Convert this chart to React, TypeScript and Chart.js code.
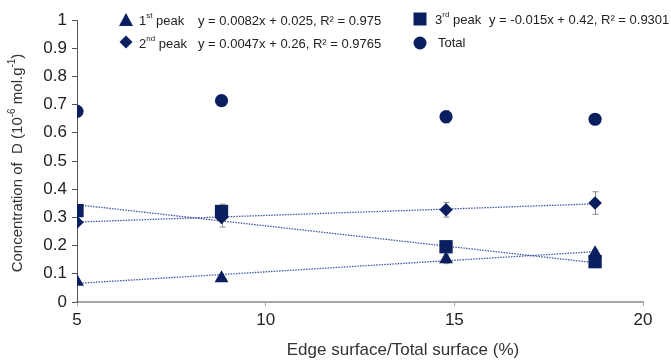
import React, { useEffect, useRef } from "react";
import { Chart, registerables } from "chart.js";

Chart.register(...registerables);

// Edge surface / total surface ratio (%) of each sample
const edgeRatio = [5, 8.83, 14.78, 18.73];

// Concentration of D (10^-6 mol/g) for each desorption peak and the total
const peak1 = [0.072, 0.084, 0.152, 0.173];
const peak2 = [0.283, 0.3, 0.327, 0.351];
const peak3 = [0.324, 0.321, 0.196, 0.143];
const total = [0.676, 0.714, 0.657, 0.648];

// Error bar half-widths
const peak1Err = [0, 0, 0.016, 0.012];
const peak2Err = [0, 0.034, 0.026, 0.04];
const peak3Err = [0, 0.026, 0.016, 0];
const totalErr = [0, 0, 0.022, 0];

// Linear fits of the three peaks
const fitSlope = [0.0082, 0.0047, -0.015];
const fitIntercept = [0.025, 0.26, 0.42];
const fitR2 = ["0.975", "0.9765", "0.9301"];

const xTicks = [5, 10, 15, 20];
const yTicks = [0, 0.1, 0.2, 0.3, 0.4, 0.5, 0.6, 0.7, 0.8, 0.9, 1];

const NAVY = "#0a1f60";
const FIT = "#4257a3";
const FONT = "'Liberation Sans', Arial, sans-serif";

const fmt = (v: number) => {
  const s = v.toString();
  return s.startsWith("-") ? "-" + s.slice(1) : s;
};

const fitLabel = (i: number) =>
  `y = ${fmt(fitSlope[i])}x + ${fmt(fitIntercept[i])}, R² = ${fitR2[i]}`;

const fitLine = (i: number) => {
  const xs = [edgeRatio[0], edgeRatio[edgeRatio.length - 1]];
  return xs.map((x) => ({ x, y: fitSlope[i] * x + fitIntercept[i] }));
};

const pts = (ys: number[]) => edgeRatio.map((x, i) => ({ x, y: ys[i] }));

function drawMarker(ctx: CanvasRenderingContext2D, kind: string, x: number, y: number) {
  ctx.save();
  ctx.fillStyle = NAVY;
  ctx.beginPath();
  if (kind === "triangle") {
    ctx.moveTo(x, y - 7);
    ctx.lineTo(x + 7, y + 6);
    ctx.lineTo(x - 7, y + 6);
    ctx.closePath();
  } else if (kind === "diamond") {
    ctx.moveTo(x, y - 6.5);
    ctx.lineTo(x + 6.5, y);
    ctx.lineTo(x, y + 6.5);
    ctx.lineTo(x - 6.5, y);
    ctx.closePath();
  } else if (kind === "square") {
    ctx.rect(x - 6.5, y - 6.5, 13, 13);
  } else {
    ctx.arc(x, y, 6.5, 0, Math.PI * 2);
  }
  ctx.fill();
  ctx.restore();
}

// Text with a raised, smaller suffix (e.g. 1st, 10^-6)
function drawRuns(
  ctx: CanvasRenderingContext2D,
  runs: { t: string; sup?: boolean }[],
  x: number,
  y: number,
  size: number,
  measureOnly = false
) {
  let cx = x;
  for (const r of runs) {
    const s = r.sup ? Math.round(size * 0.65) : size;
    ctx.font = `${s}px ${FONT}`;
    if (!measureOnly) ctx.fillText(r.t, cx, r.sup ? y - size * 0.38 : y);
    cx += ctx.measureText(r.t).width;
  }
  return cx - x;
}

const errorBars = {
  id: "errorBars",
  beforeDatasetsDraw(chart: any) {
    const { ctx, scales } = chart;
    const sets: [number[], number[]][] = [
      [peak1, peak1Err],
      [peak2, peak2Err],
      [peak3, peak3Err],
      [total, totalErr],
    ];
    ctx.save();
    ctx.strokeStyle = "#8c8c8c";
    ctx.lineWidth = 1;
    for (const [vals, errs] of sets) {
      vals.forEach((v, i) => {
        if (!errs[i]) return;
        const px = Math.round(scales.x.getPixelForValue(edgeRatio[i])) + 0.5;
        const y1 = scales.y.getPixelForValue(v - errs[i]);
        const y2 = scales.y.getPixelForValue(v + errs[i]);
        ctx.beginPath();
        ctx.moveTo(px, y1);
        ctx.lineTo(px, y2);
        ctx.moveTo(px - 3, y1);
        ctx.lineTo(px + 3, y1);
        ctx.moveTo(px - 3, y2);
        ctx.lineTo(px + 3, y2);
        ctx.stroke();
      });
    }
    ctx.restore();
  },
};

const annotations = {
  id: "annotations",
  afterDraw(chart: any) {
    const { ctx } = chart;
    ctx.save();
    ctx.fillStyle = "#222";
    ctx.textBaseline = "middle";
    ctx.textAlign = "left";

    // legend, left column
    drawMarker(ctx, "triangle", 126, 20);
    drawRuns(ctx, [{ t: "1" }, { t: "st", sup: true }, { t: " peak" }], 139, 21, 13);
    ctx.font = `13px ${FONT}`;
    ctx.fillText(fitLabel(0), 198, 21);

    drawMarker(ctx, "diamond", 126, 42);
    drawRuns(ctx, [{ t: "2" }, { t: "nd", sup: true }, { t: " peak" }], 139, 44, 13);
    ctx.font = `13px ${FONT}`;
    ctx.fillText(fitLabel(1), 198, 44);

    // legend, right column
    drawMarker(ctx, "square", 420, 19);
    drawRuns(ctx, [{ t: "3" }, { t: "rd", sup: true }, { t: " peak" }], 435, 20, 13);
    ctx.font = `13px ${FONT}`;
    ctx.fillText(fitLabel(2), 489, 20);

    drawMarker(ctx, "circle", 420, 43);
    ctx.font = `13px ${FONT}`;
    ctx.fillText("Total", 438, 43);

    // x axis title
    ctx.fillStyle = "#333";
    ctx.font = `17px ${FONT}`;
    ctx.textAlign = "center";
    ctx.fillText("Edge surface/Total surface (%)", 403, 350);

    // y axis title (rotated)
    const runs = [
      { t: "Concentration of  D (10" },
      { t: "-6", sup: true },
      { t: " mol.g" },
      { t: "-1", sup: true },
      { t: ")" },
    ];
    ctx.textAlign = "left";
    const w = drawRuns(ctx, runs, 0, 0, 15, true);
    ctx.translate(18, 163);
    ctx.rotate(-Math.PI / 2);
    drawRuns(ctx, runs, -w / 2, 0, 15);
    ctx.restore();
  },
};

export default function App() {
  const ref = useRef<HTMLCanvasElement>(null);

  useEffect(() => {
    document.body.style.margin = "0";
    const canvas = ref.current;
    if (!canvas) return;

    const marker = (data: number[], style: string, radius: number) => ({
      type: "scatter" as const,
      data: pts(data),
      pointStyle: style,
      pointRadius: radius,
      pointHoverRadius: radius,
      backgroundColor: NAVY,
      borderColor: NAVY,
      borderWidth: 0,
      order: 1,
    });

    const trend = (i: number) => ({
      type: "line" as const,
      data: fitLine(i),
      showLine: true,
      borderColor: FIT,
      borderWidth: 1.3,
      borderDash: [1.5, 1.2],
      pointRadius: 0,
      fill: false,
      order: 2,
    });

    const chart = new Chart(canvas, {
      type: "scatter",
      data: {
        datasets: [
          trend(0),
          trend(1),
          trend(2),
          marker(peak1, "triangle", 8),
          marker(peak2, "rectRot", 6.8),
          marker(peak3, "rect", 9.4),
          marker(total, "circle", 6.6),
        ] as any,
      },
      options: {
        animation: false,
        responsive: true,
        maintainAspectRatio: false,
        layout: { padding: { top: 20, right: 28, left: 0, bottom: 0 } },
        plugins: {
          legend: { display: false },
          tooltip: { enabled: false },
          title: { display: false },
        },
        scales: {
          x: {
            type: "linear",
            min: 5,
            max: 20,
            afterBuildTicks: (s: any) => {
              s.ticks = xTicks.map((v) => ({ value: v }));
            },
            afterFit: (s: any) => {
              s.height = 58;
            },
            ticks: {
              color: "#222",
              font: { family: FONT, size: 17 },
              padding: 4,
              maxRotation: 0,
            },
            grid: {
              display: true,
              drawOnChartArea: false,
              drawTicks: true,
              tickLength: 4,
              color: "#a6a6a6",
            },
            border: { display: true, color: "#a6a6a6", width: 2 },
          },
          y: {
            type: "linear",
            min: 0,
            max: 1,
            afterBuildTicks: (s: any) => {
              s.ticks = yTicks.map((v) => ({ value: v }));
            },
            afterFit: (s: any) => {
              s.width = 77;
            },
            ticks: {
              color: "#222",
              font: { family: FONT, size: 17 },
              padding: 5,
              callback: (v: any) => {
                const n = Number(v);
                return Number.isInteger(n) ? String(n) : n.toFixed(1);
              },
            },
            grid: {
              display: true,
              drawOnChartArea: false,
              drawTicks: true,
              tickLength: 5,
              color: "#555",
            },
            border: { display: true, color: "#555", width: 1 },
          },
        },
      },
      plugins: [errorBars, annotations],
    });

    return () => chart.destroy();
  }, []);

  return (
    <div style={{ position: "relative", width: 671, height: 360 }}>
      <canvas ref={ref} />
    </div>
  );
}
